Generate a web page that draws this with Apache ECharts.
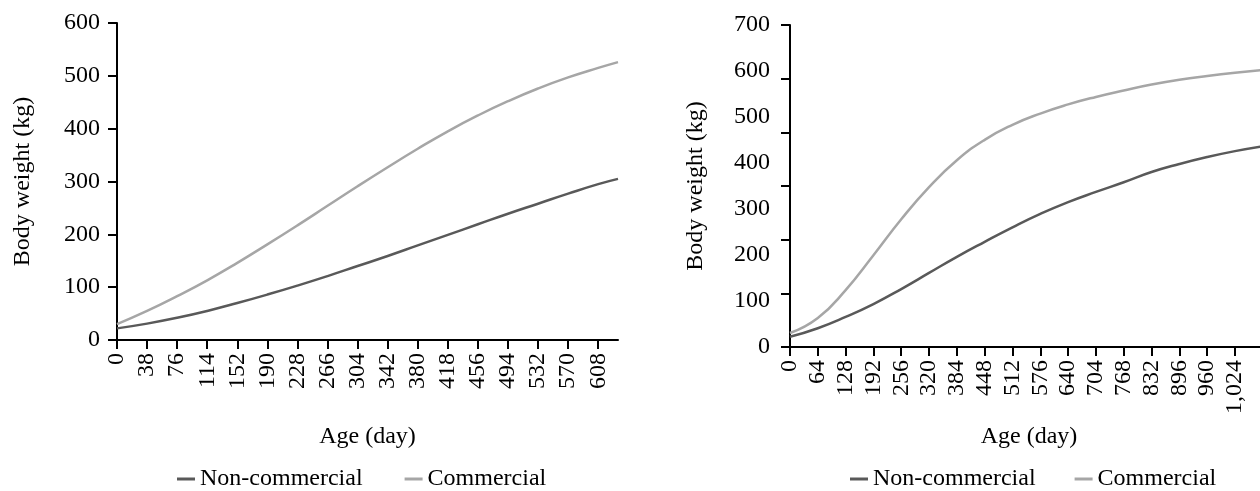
<!DOCTYPE html>
<html>
<head>
<meta charset="utf-8">
<script src="https://cdn.jsdelivr.net/npm/echarts@6/dist/echarts.min.js"></script>
<style>
html,body{margin:0;padding:0;background:#fff;}
#chart{width:1260px;height:491px;}
</style>
</head>
<body>
<div id="chart"></div>
<script>
// Left panel
const leftDays = [0, 38, 76, 114, 152, 190, 228, 266, 304, 342, 380, 418, 456, 494, 532, 570, 608, 633];
const leftNonCommercial = [22, 31, 42, 55, 70, 86, 103, 121, 140, 159, 179, 199, 219, 239, 258, 277, 295, 305];
const leftCommercial = [30, 55, 83, 113, 146, 181, 217, 254, 291, 327, 362, 395, 425, 452, 476, 497, 515, 526];
const leftXTicks = [0, 38, 76, 114, 152, 190, 228, 266, 304, 342, 380, 418, 456, 494, 532, 570, 608];

// Right panel
const rightDays = [0, 64, 128, 192, 256, 320, 384, 448, 512, 576, 640, 704, 768, 832, 896, 960, 1024, 1088];
const rightNonCommercial = [19, 35, 56, 80, 108, 138, 168, 196, 223, 248, 270, 289, 307, 326, 341, 354, 365, 374];
const rightCommercial = [26, 54, 106, 171, 238, 298, 348, 386, 414, 435, 452, 466, 478, 489, 498, 505, 511, 516];
const rightXTicks = [0, 64, 128, 192, 256, 320, 384, 448, 512, 576, 640, 704, 768, 832, 896, 960, 1024];

const seriesNames = ['Non-commercial', 'Commercial'];
const colors = ['#595959', '#a6a6a6'];

const FONT = 'Liberation Serif';
const FS = 24;

function pairs(xs, ys) { return xs.map((x, i) => [x, ys[i]]); }

const axisLineStyle = { color: '#000', width: 2 };

const chart = echarts.init(document.getElementById('chart'));
chart.setOption({
  backgroundColor: '#fff',
  animation: false,
  textStyle: { fontFamily: FONT, color: '#000' },
  grid: [
    { left: 117, top: 23, width: 501, height: 317, outerBoundsMode: 'none', containLabel: false },
    { left: 790, top: 25, width: 478, height: 322, outerBoundsMode: 'none', containLabel: false }
  ],
  xAxis: [
    {
      type: 'value', gridIndex: 0, min: 0, max: 633,
      name: 'Age (day)', nameLocation: 'middle', nameGap: 85,
      nameTextStyle: { fontFamily: FONT, fontSize: FS, color: '#000' },
      axisLine: { show: true, lineStyle: axisLineStyle },
      axisTick: { show: true, length: 9, lineStyle: axisLineStyle, customValues: leftXTicks },
      axisLabel: { rotate: 90, fontFamily: FONT, fontSize: FS, color: '#000', margin: 13, customValues: leftXTicks },
      splitLine: { show: false }
    },
    {
      type: 'value', gridIndex: 1, min: 0, max: 1100,
      name: 'Age (day)', nameLocation: 'middle', nameGap: 78,
      nameTextStyle: { fontFamily: FONT, fontSize: FS, color: '#000' },
      axisLine: { show: true, lineStyle: axisLineStyle },
      axisTick: { show: true, length: 9, lineStyle: axisLineStyle, customValues: rightXTicks },
      axisLabel: { rotate: 90, fontFamily: FONT, fontSize: FS, color: '#000', margin: 13, customValues: rightXTicks },
      splitLine: { show: false }
    }
  ],
  yAxis: [
    {
      type: 'value', gridIndex: 0, min: 0, max: 600, interval: 100, position: 'left',
      name: 'Body weight (kg)', nameLocation: 'middle', nameGap: 82,
      nameTextStyle: { fontFamily: FONT, fontSize: FS, color: '#000' },
      axisLine: { show: true, lineStyle: axisLineStyle },
      axisTick: { show: true, length: 9, lineStyle: axisLineStyle },
      axisLabel: { fontFamily: FONT, fontSize: FS, color: '#000', margin: 17 },
      splitLine: { show: false }
    },
    {
      type: 'value', gridIndex: 1, min: 0, max: 600, interval: 100, position: 'left',
      name: 'Body weight (kg)', nameLocation: 'middle', nameGap: 82,
      nameTextStyle: { fontFamily: FONT, fontSize: FS, color: '#000' },
      axisLine: { show: true, lineStyle: axisLineStyle },
      axisTick: { show: true, length: 9, lineStyle: axisLineStyle },
      axisLabel: { show: false },
      splitLine: { show: false }
    },
    {
      type: 'value', gridIndex: 1, min: 0, max: 700, interval: 100, position: 'left', offset: 0,
      axisLine: { show: false, onZero: false },
      axisTick: { show: false },
      axisLabel: { fontFamily: FONT, fontSize: FS, color: '#000', margin: 20 },
      splitLine: { show: false }
    }
  ],
  legend: [
    {
      left: 172, top: 462, icon: 'rect', itemWidth: 18, itemHeight: 3, itemGap: 42,
      textStyle: { fontFamily: FONT, fontSize: FS, color: '#000' },
      data: seriesNames
    },
    {
      left: 845, top: 462, icon: 'rect', itemWidth: 18, itemHeight: 3, itemGap: 39,
      textStyle: { fontFamily: FONT, fontSize: FS, color: '#000' },
      data: seriesNames
    }
  ],
  series: [
    { name: seriesNames[0], type: 'line', xAxisIndex: 0, yAxisIndex: 0, data: pairs(leftDays, leftNonCommercial), smooth: true, symbol: 'none', lineStyle: { color: colors[0], width: 2.5 }, itemStyle: { color: colors[0] } },
    { name: seriesNames[1], type: 'line', xAxisIndex: 0, yAxisIndex: 0, data: pairs(leftDays, leftCommercial), smooth: true, symbol: 'none', lineStyle: { color: colors[1], width: 2.5 }, itemStyle: { color: colors[1] } },
    { name: seriesNames[0], type: 'line', xAxisIndex: 1, yAxisIndex: 1, data: pairs(rightDays, rightNonCommercial), smooth: true, symbol: 'none', lineStyle: { color: colors[0], width: 2.5 }, itemStyle: { color: colors[0] } },
    { name: seriesNames[1], type: 'line', xAxisIndex: 1, yAxisIndex: 1, data: pairs(rightDays, rightCommercial), smooth: true, symbol: 'none', lineStyle: { color: colors[1], width: 2.5 }, itemStyle: { color: colors[1] } }
  ]
});
</script>
</body>
</html>
